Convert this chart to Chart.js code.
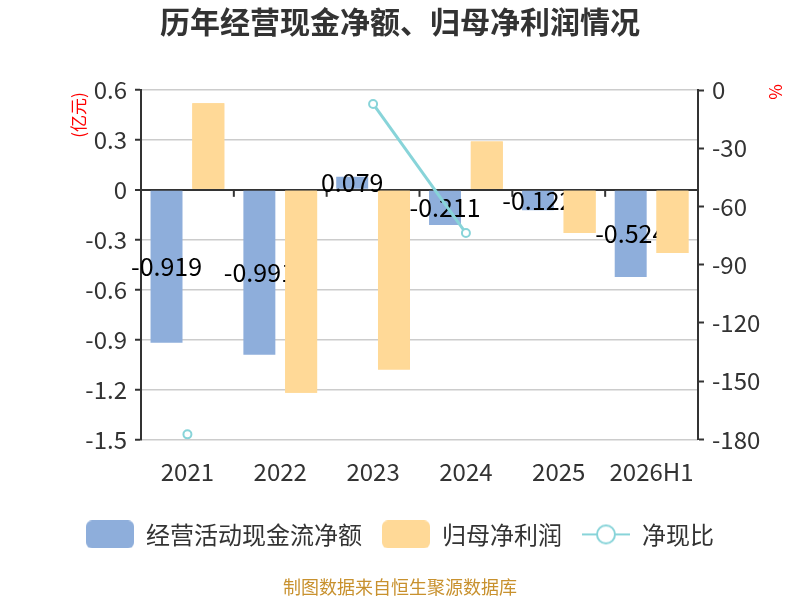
<!DOCTYPE html>
<html>
<head>
<meta charset="utf-8">
<script src="https://cdn.jsdelivr.net/npm/chart.js@4.4.0/dist/chart.umd.min.js"></script>
<style>
  html, body { margin: 0; padding: 0; background: #fff; }
  #wrap { width: 800px; height: 600px; }
</style>
</head>
<body>
<div id="wrap"><canvas id="chart" width="800" height="600"></canvas></div>
<script>
// Chart data
const years = ['2021', '2022', '2023', '2024', '2025', '2026H1'];
const cashFlow = [-0.919, -0.991, 0.079, -0.211, -0.122, -0.524];
const netProfit = [0.52, -1.22, -1.08, 0.29, -0.26, -0.38];
const cashRatio = [-177.4, null, -7.2, -73.7, null, null];
const leftTicks = [0.6, 0.3, 0, -0.3, -0.6, -0.9, -1.2, -1.5];
const rightTicks = [0, -30, -60, -90, -120, -150, -180];

const FONT = "'Noto Sans CJK SC', 'Noto Sans', sans-serif";
const BLUE = '#8eaedb';
const YELLOW = '#ffd997';
const TEAL = '#88d4d9';

// Legend icons drawn on small canvases
function boxIcon(color) {
    const c = document.createElement('canvas');
    c.width = 48; c.height = 28;
    const g = c.getContext('2d');
    g.fillStyle = color;
    g.beginPath();
    g.roundRect(0, 0, 48, 28, 6);
    g.fill();
    return c;
}
function lineIcon(color) {
    const c = document.createElement('canvas');
    c.width = 48; c.height = 22;
    const g = c.getContext('2d');
    g.strokeStyle = color;
    g.lineWidth = 2;
    g.beginPath();
    g.moveTo(0, 11); g.lineTo(48, 11);
    g.stroke();
    g.fillStyle = '#fff';
    g.beginPath();
    g.arc(24, 11, 9, 0, Math.PI * 2);
    g.fill();
    g.stroke();
    return c;
}
const legendIcons = [boxIcon(BLUE), boxIcon(YELLOW), lineIcon(TEAL)];

// Extra drawing: value labels, zero line ticks, axis names
const extras = {
    id: 'extras',
    beforeDatasetsDraw(chart) {
        const ctx = chart.ctx;
        const x = chart.scales.x;
        const y0 = chart.scales.y.getPixelForValue(0);
        ctx.save();
        ctx.strokeStyle = '#333';
        ctx.lineWidth = 2;
        for (let i = 1; i < years.length; i++) {
            const px = (x.getPixelForValue(i - 1) + x.getPixelForValue(i)) / 2;
            ctx.beginPath();
            ctx.moveTo(px, y0);
            ctx.lineTo(px, y0 + 7);
            ctx.stroke();
        }
        ctx.restore();
    },
    afterDatasetDraw(chart, args) {
        if (args.index !== 0) return;
        const ctx = chart.ctx;
        const meta = chart.getDatasetMeta(0);
        ctx.save();
        ctx.font = '25px ' + FONT;
        ctx.fillStyle = '#000';
        ctx.textAlign = 'center';
        ctx.textBaseline = 'middle';
        meta.data.forEach((bar, i) => {
            ctx.fillText(String(cashFlow[i]), bar.x, (bar.y + bar.base) / 2);
        });
        ctx.restore();
        // profit bars sit above the labels, as in the source picture
        chart.getDatasetMeta(1).data.forEach(el => el.draw(ctx));
    },
    afterDraw(chart) {
        const ctx = chart.ctx;
        ctx.save();
        ctx.fillStyle = '#ff0000';
        ctx.font = '17px ' + FONT;
        ctx.textAlign = 'center';
        ctx.textBaseline = 'middle';
        ctx.translate(79, 115);
        ctx.rotate(-Math.PI / 2);
        ctx.fillText('(亿元)', 0, 0);
        ctx.restore();
        ctx.save();
        ctx.fillStyle = '#ff0000';
        ctx.font = '17px ' + FONT;
        ctx.textAlign = 'center';
        ctx.textBaseline = 'middle';
        ctx.translate(776, 92);
        ctx.rotate(-Math.PI / 2);
        ctx.fillText('%', 0, 0);
        ctx.restore();
    }
};

new Chart(document.getElementById('chart'), {
    type: 'bar',
    data: {
        labels: years,
        datasets: [
            {
                label: '经营活动现金流净额',
                data: cashFlow,
                backgroundColor: BLUE,
                yAxisID: 'y',
                order: 0,
                categoryPercentage: 0.9,
                barPercentage: 0.765
            },
            {
                label: '归母净利润',
                data: netProfit,
                backgroundColor: YELLOW,
                yAxisID: 'y',
                order: 1,
                categoryPercentage: 0.9,
                barPercentage: 0.765
            },
            {
                type: 'line',
                label: '净现比',
                data: cashRatio,
                yAxisID: 'y1',
                order: -1,
                borderColor: TEAL,
                borderWidth: 3,
                pointRadius: 4,
                pointBorderWidth: 2,
                pointBackgroundColor: '#fff',
                pointBorderColor: TEAL,
                spanGaps: false,
                tension: 0
            }
        ]
    },
    options: {
        responsive: false,
        animation: false,
        layout: { padding: 0 },
        plugins: {
            title: {
                display: true,
                text: '历年经营现金净额、归母净利润情况',
                color: '#333',
                font: { family: FONT, size: 30, weight: 'bold' },
                padding: { top: 4, bottom: 50 }
            },
            subtitle: {
                display: true,
                position: 'bottom',
                text: '制图数据来自恒生聚源数据库',
                color: '#c8912e',
                font: { family: FONT, size: 18 },
                padding: { top: 20, bottom: 2 }
            },
            legend: {
                position: 'bottom',
                labels: {
                    usePointStyle: true,
                    pointStyleWidth: 48,
                    padding: 20,
                    color: '#333',
                    font: { family: FONT, size: 24 },
                    generateLabels(chart) {
                        const items = Chart.defaults.plugins.legend.labels.generateLabels(chart);
                        items.sort((a, b) => a.datasetIndex - b.datasetIndex);
                        items.forEach(it => { it.pointStyle = legendIcons[it.datasetIndex]; });
                        return items;
                    }
                }
            },
            tooltip: { enabled: false }
        },
        scales: {
            x: {
                grid: { display: false },
                border: { display: false },
                ticks: { color: '#333', font: { family: FONT, size: 24 }, padding: 10 },
                afterFit(s) { s.height = 63; }
            },
            y: {
                position: 'left',
                min: -1.5,
                max: 0.6,
                afterBuildTicks(s) { s.ticks = leftTicks.map(v => ({ value: v })); },
                ticks: {
                    color: '#333',
                    font: { family: FONT, size: 24 },
                    padding: 8,
                    callback: v => (v === 0 ? '0' : v.toFixed(1))
                },
                grid: {
                    color: c => (c.tick && c.tick.value === 0 ? '#333' : '#cccccc'),
                    lineWidth: c => (c.tick && c.tick.value === 0 ? 2 : 1.5),
                    tickLength: 6,
                    tickColor: '#333',
                    tickWidth: 2
                },
                border: { color: '#333', width: 2 },
                afterFit(s) { s.width = 141; }
            },
            y1: {
                position: 'right',
                min: -180,
                max: 0,
                afterBuildTicks(s) { s.ticks = rightTicks.map(v => ({ value: v })); },
                ticks: {
                    color: '#333',
                    font: { family: FONT, size: 24 },
                    padding: 8,
                    callback: v => String(v)
                },
                grid: {
                    drawOnChartArea: false,
                    tickLength: 6,
                    tickColor: '#333',
                    tickWidth: 2
                },
                border: { color: '#333', width: 2 },
                afterFit(s) { s.width = 102; }
            }
        }
    },
    plugins: [extras]
});
</script>
</body>
</html>
